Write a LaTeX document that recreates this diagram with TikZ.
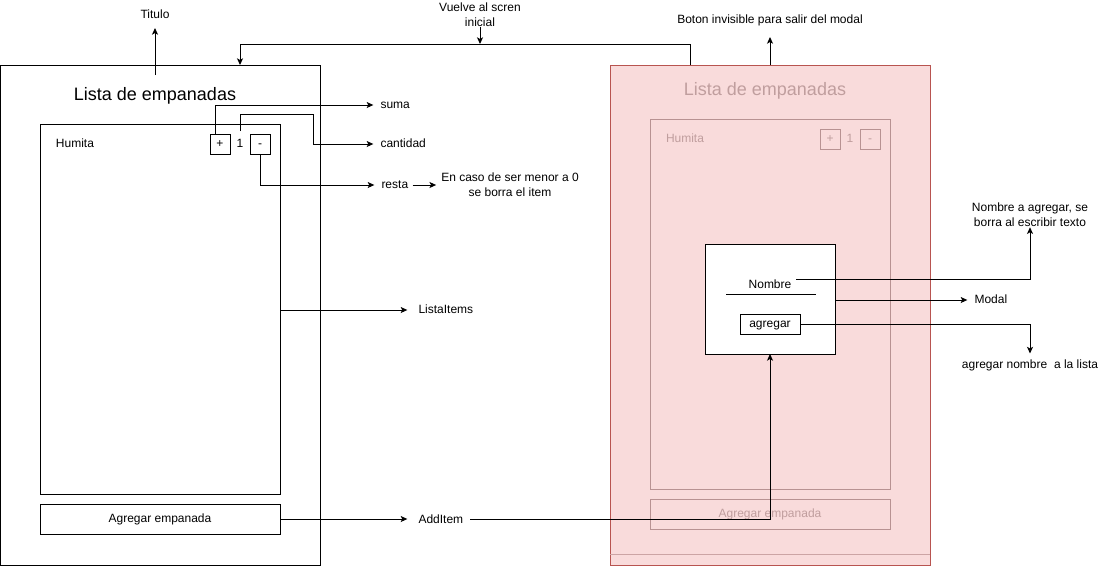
\documentclass[tikz,border=0pt]{standalone}
\usepackage{fontspec}
\setmainfont{Liberation Sans}
\usetikzlibrary{arrows.meta}
\definecolor{pinkfill}{RGB}{249,219,219}
\definecolor{pinkline}{RGB}{184,84,80}
\definecolor{fadeline}{RGB}{184,146,146}
\definecolor{fadetext}{RGB}{192,158,158}
\definecolor{fadebase}{RGB}{204,164,164}
\begin{document}
\begin{tikzpicture}[x=0.75pt,y=-0.75pt, line width=0.75pt,
  txt/.style={font=\fontsize{9}{11}\selectfont, inner sep=0pt, align=center},
  lbl/.style={txt, text height=6.5pt, text depth=2pt},
  big/.style={font=\fontsize{13.5}{16}\selectfont, inner sep=0pt},
  box/.style={draw, inner sep=0pt, outer sep=0pt},
  arr/.style={-{Stealth[length=5pt,width=4.5pt,inset=1.2pt]}},
]
\useasboundingbox (0,0) rectangle (1111,565);

% left screen
\node[box, minimum width=240pt, minimum height=375pt] (screen) at (160,315) {};
\node[big] (title) at (155,96) {Lista de empanadas};
\node[box, minimum width=180pt, minimum height=277.5pt] (list) at (160,309) {};
\node[lbl] (humita) at (75,144) {Humita};
\node[box, lbl, minimum size=15pt] (plus) at (220,144) {+};
\node[lbl] (one) at (240,144) {1};
\node[box, lbl, minimum size=15pt] (minus) at (260,144) {-};
\node[box, lbl, minimum width=180pt, minimum height=22.5pt] (addbtn) at (160,519) {Agregar empanada};

% right screen (modal overlay)
\node[draw=pinkline, fill=pinkfill, minimum width=240pt, minimum height=375pt, inner sep=0pt, outer sep=0pt] (pink) at (770,315) {};
\draw[fadebase] (610,554) -- (930,554);
\node[big, text=fadetext] (ctitle) at (765,91) {Lista de empanadas};
\node[box, draw=fadeline, minimum width=180pt, minimum height=277.5pt] (clist) at (770,304) {};
\node[lbl, text=fadetext] (chumita) at (685,139) {Humita};
\node[box, draw=fadeline, lbl, text=fadetext, minimum size=15pt] (cplus) at (830,139) {+};
\node[lbl, text=fadetext] (cone) at (850,139) {1};
\node[box, draw=fadeline, lbl, text=fadetext, minimum size=15pt] (cminus) at (870,139) {-};
\node[box, draw=fadeline, lbl, text=fadetext, minimum width=180pt, minimum height=22.5pt] (cadd) at (770,514) {Agregar empanada};

% modal
\node[box, fill=white, minimum width=97.5pt, minimum height=82.5pt] (modal) at (770,299) {};
\node[lbl] (nombre) at (770,285) {Nombre};
\coordinate (ulA) at (726,294);
\coordinate (ulB) at (816,294);
\draw (ulA) -- (ulB);
\node[box, lbl, minimum width=45pt, minimum height=15pt] (agregar) at (770,324) {agregar};

% labels
\node[lbl] (titulo) at (155,15) {Titulo};
\node[txt] (vuelve) at (480,15) {Vuelve al scren\\inicial};
\node[lbl] (boton) at (770,20) {Boton invisible para salir del modal};
\node[lbl, anchor=west] (suma) at (380,105) {suma};
\node[lbl, anchor=west] (cantidad) at (380,144) {cantidad};
\node[lbl, anchor=west] (resta) at (381,185) {resta};
\node[txt] (encaso) at (510,185) {En caso de ser menor a 0\\se borra el item};
\node[lbl, anchor=west] (listaitems) at (418,310) {ListaItems};
\node[lbl, anchor=west] (additem) at (418,520) {AddItem};
\node[txt] (nomlbl) at (1030,215) {Nombre a agregar, se\\borra al escribir texto};
\node[lbl, anchor=west] (modallbl) at (974,300) {Modal};
\node[lbl] (agrlbl) at (1030,365) {agregar nombre\ \ a la lista};

% connectors
\draw[arr] (titulo |- 0,75) -- (titulo |- 0,28);
\draw[arr] (pink.north -| 690,0) -- (690,44) -- (240,44) -- (screen.north -| 240,0);
\draw[arr] (vuelve.south) -- (480,44);
\draw[arr] (pink.north) -- (770,37);
\draw[arr] (plus.north -| 215,0) |- ([xshift=-5pt]suma.west);
\draw[arr] (240,131) -- (240,114) -- (313,114) |- ([xshift=-5pt]cantidad.west);
\draw[arr] (minus.south) |- ([xshift=-5pt]resta.west);
\draw[arr] ([xshift=3pt]resta.east) -- ([xshift=-3.5pt]encaso.west |- resta.east);
\draw[arr] (list.east |- listaitems) -- ([xshift=-8pt]listaitems.west);
\draw[arr] (addbtn.east) -- ([xshift=-8pt]additem.west |- addbtn.east);
\draw[arr] ([xshift=5pt]additem.east |- addbtn.east) -| (modal.south);
\draw[arr] (796,279) -| (nomlbl.south);
\draw[arr] (modal.east |- modallbl) -- ([xshift=-5pt]modallbl.west);
\draw[arr] (agregar.east) -| ([yshift=4pt]agrlbl.north);
\end{tikzpicture}
\end{document}
